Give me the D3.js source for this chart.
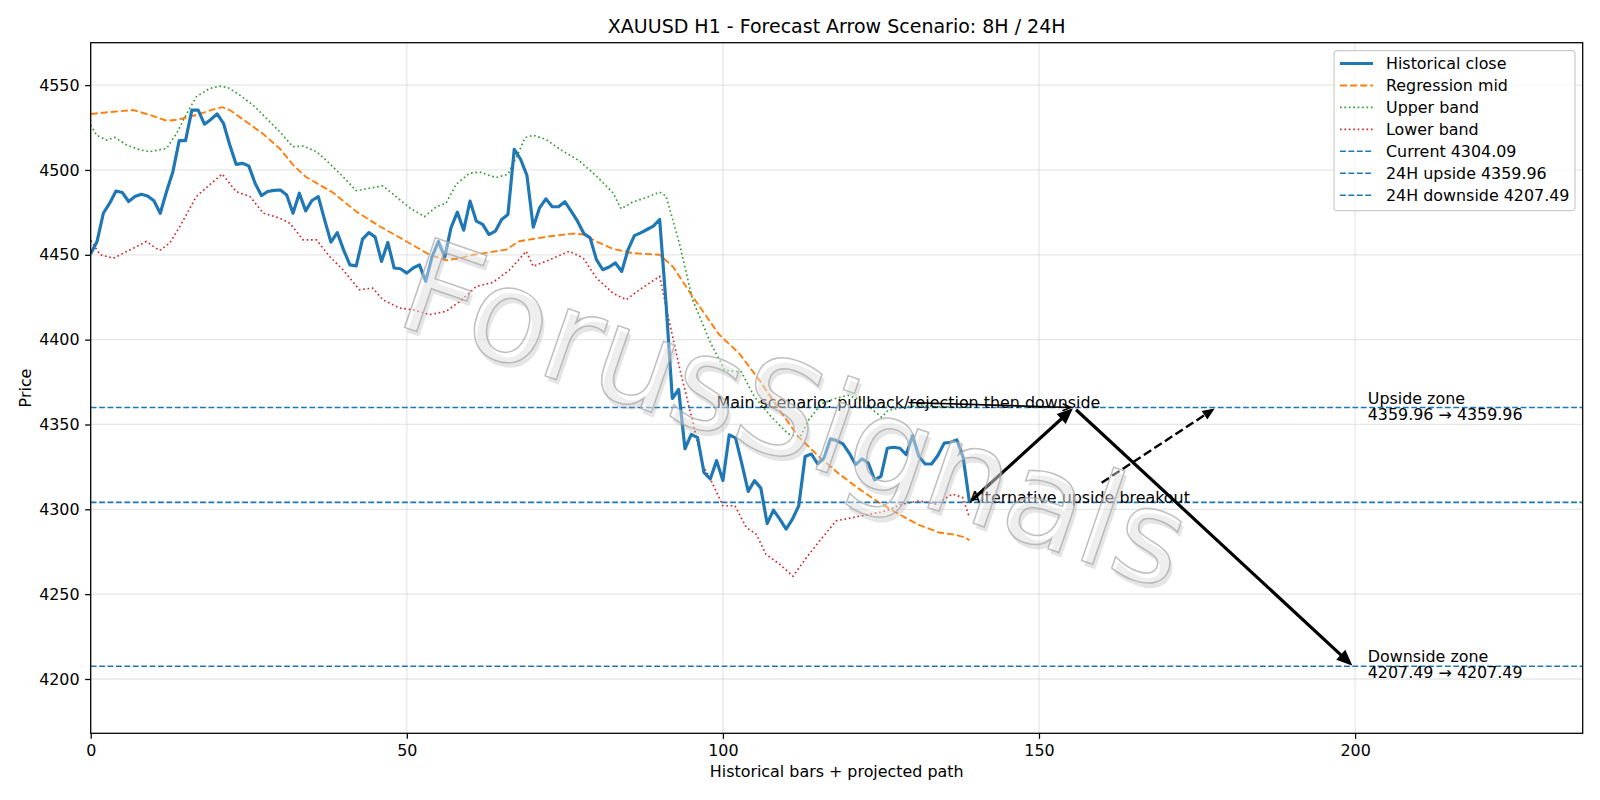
<!DOCTYPE html>
<html>
<head>
<meta charset="utf-8">
<script src="https://cdn.jsdelivr.net/npm/d3@7"></script>
<style>
body { margin: 0; background: #fff; }
text { font-family: "DejaVu Sans", sans-serif; }
</style>
</head>
<body>
<div id="canvas"></div>
<script>
"use strict";

/* -------------------- Data -------------------- */

// historical close, one value per bar (0..139)
let closeValues = [4450.6,4457.8,4474.5,4480.4,4487.6,4486.7,4481.4,4484.3,4485.7,4484.7,
    4481.8,4474.5,4487.3,4499.0,4517.3,4517.3,4535.3,4535.3,4527.0,4529.8,
    4533.0,4527.5,4514.7,4503.3,4503.9,4502.4,4492.2,4484.9,4487.3,4488.0,
    4488.2,4485.3,4474.5,4486.3,4475.9,4482.0,4484.3,4470.6,4457.5,4463.1,
    4452.9,4444.1,4443.5,4459.2,4463.1,4460.4,4446.1,4457.3,4442.2,4441.8,
    4439.2,4442.2,4444.1,4434.3,4449.0,4457.8,4448.6,4466.0,4475.1,4464.5,
    4481.7,4469.8,4467.9,4461.9,4463.9,4470.8,4473.8,4512.2,4506.3,4496.8,
    4466.3,4477.7,4483.0,4478.3,4478.3,4481.3,4475.7,4469.8,4462.5,4460.0,
    4447.1,4441.2,4442.8,4445.2,4440.2,4453.1,4461.3,4462.9,4464.9,4466.9,
    4470.8,4421.5,4365.3,4370.6,4335.7,4344.2,4342.2,4321.8,4317.9,4328.7,
    4316.9,4343.9,4342.1,4326.8,4310.6,4316.9,4312.5,4291.6,4299.5,4294.2,
    4288.3,4294.2,4302.1,4331.1,4332.6,4326.7,4330.3,4341.5,4340.5,4338.6,
    4333.0,4326.3,4329.7,4327.3,4317.3,4319.4,4336.0,4336.6,4336.0,4332.2,
    4343.5,4331.1,4326.7,4326.7,4331.7,4339.0,4339.5,4340.9,4330.7,4304.09];

// smooth curves, read as [bar, price] points
let midPoints = [[0,4533],[3.6,4534.3],[6.7,4535.3],[9.4,4532.4],[12,4529],[14,4529.8],
    [16.7,4532.4],[19.4,4535.7],[20.8,4537],[22,4535.3],[24.6,4528.4],[27.3,4521.2],
    [30,4512.2],[32,4503],[34,4496],[38.3,4486.7],[42,4475.5],[45.7,4466.8],[49.9,4458],
    [53.6,4450],[56.2,4446.8],[58.4,4448],[60.5,4450],[65.7,4453],[67.8,4458],[72,4460.6],
    [76.3,4462.5],[77.9,4462],[79.9,4458],[82.6,4453.5],[85.7,4451],[90,4450],[92.1,4443],
    [95.2,4425.4],[99.4,4403],[102.6,4391.8],[105.8,4376],[109,4358.3],[112,4342.5],
    [115.3,4330.7],[118.4,4320.8],[121.6,4311.9],[124.7,4304],[127.9,4297],[131,4290.8],
    [134.2,4286.3],[136.8,4285],[138.4,4283.3],[139,4281.8]];

let upperPoints = [[0,4526.5],[0.9,4520.6],[2.5,4517.6],[3.8,4519.2],[5.7,4514.7],[7.8,4511.8],
    [9.4,4510.8],[12,4512.7],[13.6,4521.6],[15.2,4533.3],[16.7,4543.1],[18.8,4548],
    [20.4,4549.4],[21.7,4548.6],[23.6,4544.1],[25.7,4538.2],[27.8,4530.4],[29.9,4522.5],
    [32,4513.7],[33.6,4514.1],[35.7,4510.8],[37.3,4505.5],[39.9,4496.1],[42,4487.8],
    [44.1,4489.2],[46.2,4490.6],[48.3,4484.3],[50.5,4477.5],[52.8,4472.5],[54.7,4478.4],
    [56.2,4480.4],[57.8,4491.5],[59.9,4498],[61.5,4498.8],[64.1,4495.5],[66,4497.4],
    [67.8,4511.2],[68.7,4519],[70,4520.5],[72,4518],[74.2,4512.2],[77.3,4505.3],[80,4496.4],
    [82.6,4486.6],[83.9,4477.1],[85.7,4481.1],[87.8,4483.6],[90,4487],[91,4484.6],
    [93.1,4457],[95.2,4423.5],[98.1,4397.7],[100.3,4382],[102.9,4381],[105,4366.2],
    [107.7,4354.3],[110.3,4344.5],[112.2,4342.5],[113.5,4352.4],[115.6,4362.2],
    [117.7,4365.2],[119.8,4367.2],[121.9,4364.2],[125.1,4354.3],[126.1,4358.3],
    [128.7,4360.3],[131.4,4361.2],[134,4360.3],[139,4360.3]];

let lowerPoints = [[0,4458.4],[1.5,4450],[3.6,4448],[5.7,4452],[8.8,4457.8],[10.9,4452.5],
    [12.5,4456.9],[14.1,4466.7],[16.7,4484.3],[18.8,4491.2],[20.8,4497.6],[23,4487.3],
    [25.2,4484.3],[27.3,4474.5],[29.9,4471.6],[31.5,4468.6],[33.6,4458.8],[35.7,4458.8],
    [37.8,4449],[39.9,4441.2],[42.5,4429.4],[44.6,4430.4],[46.2,4423.5],[48.9,4418.6],
    [51,4417.6],[53.6,4414.7],[56.2,4416.7],[58.4,4422.5],[61,4431.4],[63.6,4433.7],
    [66.3,4441.2],[68.9,4452.1],[70,4443.2],[72.6,4447.1],[75.7,4452.1],[77.9,4448.1],
    [80,4436.3],[82.6,4427.4],[84.7,4423.5],[86.8,4429.4],[90,4437.3],[91,4419.5],
    [93.1,4384],[95.2,4352],[96.8,4326],[97.9,4318.8],[100,4302.1],[101.9,4302.1],
    [103.7,4289.3],[105.3,4285.3],[106.8,4273.5],[109,4267.6],[111.1,4260.6],[113.2,4271.5],
    [115.3,4281.4],[117.9,4293.2],[120.6,4295.2],[123.2,4297.1],[125.8,4299.1],
    [128.4,4303.1],[131,4305],[133.7,4303.1],[136.3,4309],[137.9,4307],[139,4295.2]];

let currentPrice = 4304.09;
let upsidePrice = 4359.96;
let downsidePrice = 4207.49;

let lastBar = 139;
let peakBar = 155.5;
let targetBar = 199.7;
let altBar = 178;

let xTicks = [0, 50, 100, 150, 200];
let yTicks = [4200, 4250, 4300, 4350, 4400, 4450, 4500, 4550];

let legendLabels = ["Historical close", "Regression mid", "Upper band", "Lower band",
    "Current 4304.09", "24H upside 4359.96", "24H downside 4207.49"];

/* -------------------- Setup -------------------- */

let svgWidth = 1600;
let svgHeight = 800;
let plot = { left: 90.7, right: 1582.7, top: 42.7, bottom: 733.3 };
let fs = 15.9;       // base font size (px)
let pt = 1.587;      // px per line-width point

let blue = "#1f77b4", orange = "#ff7f0e", green = "#2ca02c", red = "#d62728";

let svg = d3.select("#canvas")
    .append("svg")
    .attr("width", svgWidth)
    .attr("height", svgHeight);

let xScale = d3.scaleLinear().domain([0, 236]).range([plot.left, plot.right]);
let yScale = d3.scaleLinear().domain([4168, 4575]).range([plot.bottom, plot.top]);

svg.append("defs").append("clipPath").attr("id", "clip")
    .append("rect")
    .attr("x", plot.left).attr("y", plot.top)
    .attr("width", plot.right - plot.left).attr("height", plot.bottom - plot.top);

/* grid */
let grid = svg.append("g");
grid.selectAll("line.gx").data(xTicks).join("line")
    .attr("x1", d => xScale(d)).attr("x2", d => xScale(d))
    .attr("y1", plot.top).attr("y2", plot.bottom)
    .attr("stroke", "#b0b0b0").attr("stroke-opacity", 0.3).attr("stroke-width", 0.8 * pt);
grid.selectAll("line.gy").data(yTicks).join("line")
    .attr("y1", d => yScale(d)).attr("y2", d => yScale(d))
    .attr("x1", plot.left).attr("x2", plot.right)
    .attr("stroke", "#b0b0b0").attr("stroke-opacity", 0.3).attr("stroke-width", 0.8 * pt);

/* -------------------- Series -------------------- */

let styles = {
    close: { color: blue, width: 2 * pt, dash: null },
    mid: { color: orange, width: 1.2 * pt, dash: [3.7 * 1.2 * pt, 1.6 * 1.2 * pt].join(",") },
    upper: { color: green, width: 1.05 * pt, dash: [1.05 * pt, 1.65 * 1.05 * pt].join(",") },
    lower: { color: red, width: 1.05 * pt, dash: [1.05 * pt, 1.65 * 1.05 * pt].join(",") },
    level: { color: blue, width: 1 * pt, dash: [3.7 * pt, 1.6 * pt].join(",") }
};

let body = svg.append("g").attr("clip-path", "url(#clip)");

let linePts = d3.line().x(d => xScale(d[0])).y(d => yScale(d[1]));

function styled(sel, s) {
    return sel.attr("fill", "none")
        .attr("stroke", s.color)
        .attr("stroke-width", s.width)
        .attr("stroke-dasharray", s.dash);
}

styled(body.append("path").attr("d", linePts(midPoints)), styles.mid);
styled(body.append("path").attr("d", linePts(upperPoints)), styles.upper);
styled(body.append("path").attr("d", linePts(lowerPoints)), styles.lower);
styled(body.append("path")
    .attr("d", d3.line().x((d, i) => xScale(i)).y(d => yScale(d))(closeValues)), styles.close)
    .attr("stroke-linejoin", "round");

/* horizontal levels */
styled(body.selectAll("line.level")
    .data([currentPrice, upsidePrice, downsidePrice])
    .join("line")
    .attr("x1", plot.left).attr("x2", plot.right)
    .attr("y1", d => yScale(d)).attr("y2", d => yScale(d)), styles.level);

/* -------------------- Arrows -------------------- */

function drawArrow(g, x1, y1, x2, y2, opts) {
    let dx = x2 - x1, dy = y2 - y1;
    let len = Math.hypot(dx, dy);
    let ux = dx / len, uy = dy / len;
    let sx = x1 + ux * opts.shrinkA, sy = y1 + uy * opts.shrinkA;
    let ex = x2 - ux * opts.shrinkB, ey = y2 - uy * opts.shrinkB;
    let hl = opts.headLen, hw = opts.headW;
    let bx = ex - ux * hl, by = ey - uy * hl;
    if (opts.open) {
        g.append("line")
            .attr("x1", sx).attr("y1", sy).attr("x2", ex).attr("y2", ey)
            .attr("stroke", "black").attr("stroke-width", opts.width)
            .attr("stroke-dasharray", opts.dash || null);
        g.append("path")
            .attr("d", `M${bx - uy * hw},${by + ux * hw}L${ex},${ey}L${bx + uy * hw},${by - ux * hw}`)
            .attr("fill", "none").attr("stroke", "black").attr("stroke-width", opts.width);
    } else {
        g.append("line")
            .attr("x1", sx).attr("y1", sy)
            .attr("x2", ex - ux * hl * 0.8).attr("y2", ey - uy * hl * 0.8)
            .attr("stroke", "black").attr("stroke-width", opts.width)
            .attr("stroke-dasharray", opts.dash || null);
        g.append("path")
            .attr("d", `M${ex},${ey}L${bx - uy * hw},${by + ux * hw}L${bx + uy * hw},${by - ux * hw}Z`)
            .attr("fill", "black").attr("stroke", "black")
            .attr("stroke-width", opts.width * 0.5);
    }
}

// arrow from a text label's box towards a target, clipped at the box edge
function textArrow(g, textNode, tx, ty, opts) {
    let b = textNode.getBBox();
    let pad = 2 * pt;
    let cx = b.x + b.width / 2, cy = b.y + b.height / 2;
    let hw = b.width / 2 + pad, hh = b.height / 2 + pad;
    let dx = tx - cx, dy = ty - cy;
    let inside = Math.abs(dx) <= hw && Math.abs(dy) <= hh;
    let sx = cx, sy = cy;
    if (!inside) {
        let t = Math.min(dx === 0 ? Infinity : hw / Math.abs(dx), dy === 0 ? Infinity : hh / Math.abs(dy));
        sx = cx + dx * t;
        sy = cy + dy * t;
    }
    drawArrow(g, sx, sy, tx, ty, Object.assign({}, opts, { shrinkA: inside ? 0 : 2 * pt }));
}

let arrows = svg.append("g");

drawArrow(arrows, xScale(lastBar), yScale(currentPrice), xScale(peakBar), yScale(upsidePrice),
    { width: 2 * pt, headLen: 13, headW: 5.5, shrinkA: 2 * pt, shrinkB: 2 * pt });
drawArrow(arrows, xScale(peakBar), yScale(upsidePrice), xScale(targetBar), yScale(downsidePrice),
    { width: 2 * pt, headLen: 13, headW: 5.5, shrinkA: 2 * pt, shrinkB: 2 * pt });

let mainText = arrows.append("text")
    .attr("x", xScale(99)).attr("y", yScale(upsidePrice) + 0.5)
    .attr("font-size", fs + "px")
    .text("Main scenario: pullback/rejection then downside");

let altText = arrows.append("text")
    .attr("x", xScale(lastBar)).attr("y", yScale(currentPrice) + 0.3)
    .attr("font-size", fs + "px")
    .text("Alternative upside breakout");

textArrow(arrows, mainText.node(), xScale(peakBar), yScale(upsidePrice),
    { width: 1 * pt, headLen: 8, headW: 3.5, shrinkB: 2 * pt, open: true });
textArrow(arrows, altText.node(), xScale(altBar), yScale(upsidePrice),
    { width: 1.5 * pt, headLen: 10, headW: 4.2, shrinkB: 2 * pt,
      dash: [3.7 * 1.5 * pt, 1.6 * 1.5 * pt].join(",") });

/* zone labels */
function zoneLabel(price, title) {
    let t = svg.append("text")
        .attr("x", xScale(202))
        .attr("y", yScale(price))
        .attr("font-size", fs + "px");
    t.append("tspan").attr("x", xScale(202)).attr("dy", -4).text(title);
    t.append("tspan").attr("x", xScale(202)).attr("dy", 16)
        .text(price.toFixed(2) + " \u2192 " + price.toFixed(2));
}
zoneLabel(upsidePrice, "Upside zone");
zoneLabel(downsidePrice, "Downside zone");

/* -------------------- Watermark -------------------- */

let wm = svg.append("g")
    .attr("transform", "translate(792,423) rotate(19)");
// soft shadow
wm.append("text")
    .attr("x", 4).attr("y", 4)
    .attr("text-anchor", "middle")
    .attr("dominant-baseline", "middle")
    .attr("font-size", "130px")
    .attr("fill", "#a0a0a0").attr("fill-opacity", 0.28)
    .text("ForusSignals");
// outlined face
wm.append("text")
    .attr("text-anchor", "middle")
    .attr("dominant-baseline", "middle")
    .attr("font-size", "130px")
    .attr("fill", "#ffffff").attr("fill-opacity", 0.35)
    .attr("stroke", "#aaaaaa").attr("stroke-width", 1.5).attr("stroke-opacity", 0.75)
    .text("ForusSignals");

/* -------------------- Axes -------------------- */

let tickLen = 3.5 * pt;
let xAxis = svg.append("g")
    .attr("transform", `translate(0,${plot.bottom})`)
    .call(d3.axisBottom(xScale).tickValues(xTicks).tickSize(tickLen).tickPadding(tickLen)
        .tickFormat(d3.format("d")));
let yAxis = svg.append("g")
    .attr("transform", `translate(${plot.left},0)`)
    .call(d3.axisLeft(yScale).tickValues(yTicks).tickSize(tickLen).tickPadding(tickLen)
        .tickFormat(d3.format("d")));

[xAxis, yAxis].forEach(a => {
    a.select(".domain").remove();
    a.selectAll("line").attr("stroke", "black").attr("stroke-width", 0.8 * pt);
    a.selectAll("text")
        .attr("font-family", "DejaVu Sans, sans-serif")
        .attr("font-size", fs + "px").attr("fill", "black");
});

svg.append("rect")
    .attr("x", plot.left).attr("y", plot.top)
    .attr("width", plot.right - plot.left).attr("height", plot.bottom - plot.top)
    .attr("fill", "none").attr("stroke", "black").attr("stroke-width", 0.8 * pt);

/* titles */
svg.append("text")
    .attr("x", (plot.left + plot.right) / 2).attr("y", 33)
    .attr("text-anchor", "middle").attr("font-size", "19px")
    .text("XAUUSD H1 - Forecast Arrow Scenario: 8H / 24H");

svg.append("text")
    .attr("x", (plot.left + plot.right) / 2).attr("y", 777)
    .attr("text-anchor", "middle").attr("font-size", fs + "px")
    .text("Historical bars + projected path");

svg.append("text")
    .attr("transform", `translate(31,${(plot.top + plot.bottom) / 2}) rotate(-90)`)
    .attr("text-anchor", "middle").attr("font-size", fs + "px")
    .text("Price");

/* -------------------- Legend -------------------- */

let legendStyles = [styles.close, styles.mid, styles.upper, styles.lower,
    styles.level, styles.level, styles.level];

let legend = svg.append("g");
legend.append("rect")
    .attr("x", 1334).attr("y", 50.7)
    .attr("width", 241).attr("height", 160)
    .attr("rx", 3.5)
    .attr("fill", "white").attr("fill-opacity", 0.8)
    .attr("stroke", "#cccccc").attr("stroke-width", 1.2);

let rows = legend.selectAll("g.row")
    .data(legendLabels)
    .join("g")
    .attr("transform", (d, i) => `translate(0,${63.5 + i * 21.95})`);

rows.each(function (d, i) {
    styled(d3.select(this).append("line").attr("x1", 1340).attr("x2", 1373), legendStyles[i]);
});

rows.append("text")
    .attr("x", 1386).attr("y", 5.8)
    .attr("font-size", fs + "px")
    .text(d => d);
</script>
</body>
</html>
